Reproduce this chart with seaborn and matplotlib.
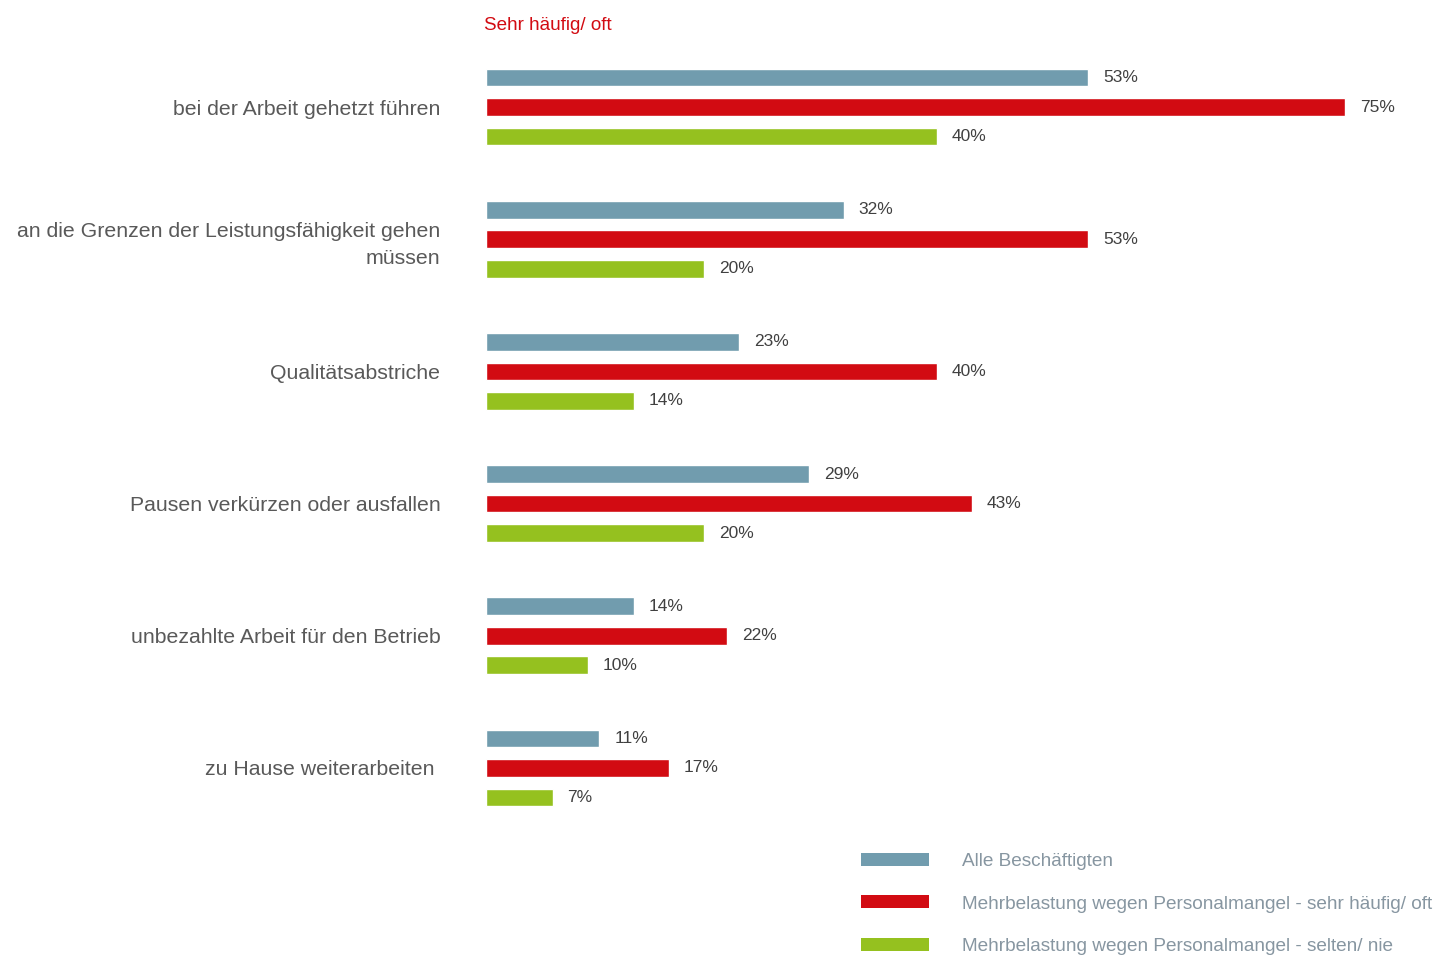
import matplotlib
matplotlib.use("Agg")
import matplotlib.pyplot as plt
import seaborn as sns
import pandas as pd
from matplotlib.patches import Patch

categories = [
    "bei der Arbeit gehetzt führen",
    "an die Grenzen der Leistungsfähigkeit gehen\nmüssen",
    "Qualitätsabstriche",
    "Pausen verkürzen oder ausfallen",
    "unbezahlte Arbeit für den Betrieb",
    "zu Hause weiterarbeiten ",
]
series_names = [
    "Alle Beschäftigten",
    "Mehrbelastung wegen Personalmangel - sehr häufig/ oft",
    "Mehrbelastung wegen Personalmangel - selten/ nie",
]
alle = [53, 32, 23, 29, 14, 11]
oft = [75, 53, 40, 43, 22, 17]
selten = [40, 20, 14, 20, 10, 7]
colors = ["#719cae", "#d20b12", "#95c11f"]

rows = []
for name, vals in zip(series_names, [alle, oft, selten]):
    for c, v in zip(categories, vals):
        rows.append({"cat": c, "val": v, "series": name})
df = pd.DataFrame(rows)

sns.set_style("white")
plt.rcParams["font.family"] = ["Liberation Sans", "DejaVu Sans"]

fig = plt.figure(figsize=(14.4, 9.56), dpi=100)
px_per_unit = 11.65
left_px = 471
right_px = left_px + 80 * px_per_unit
top_px, bot_px = 41, 834
ax = fig.add_axes([left_px / 1440, 1 - bot_px / 956,
                   (right_px - left_px) / 1440, (bot_px - top_px) / 956])

sns.barplot(data=df, x="val", y="cat", hue="series", order=categories,
            hue_order=series_names, palette=colors, orient="h",
            width=0.668, gap=0.40, ax=ax, legend=False, saturation=1,
            errorbar=None)

ax.set_xlim(0, 80)
ax.set_ylim(5.5, -0.5)

# bars visually start slightly right of the value origin (as in the source chart)
start = 15 / px_per_unit
for cont in ax.containers:
    for p in cont.patches:
        w = p.get_width()
        p.set_x(start)
        p.set_width(w - start)

for s in ax.spines.values():
    s.set_visible(False)
ax.set_xticks([])
ax.set_xlabel("")
ax.set_ylabel("")
ax.tick_params(axis="y", length=0, pad=22, labelsize=15.3, labelcolor="#595959")
for lab in ax.get_yticklabels():
    lab.set_linespacing(1.5)

for cont in ax.containers:
    ax.bar_label(cont, fmt="%.0f%%", padding=10.8, fontsize=12.5, color="#404040")

fig.text(484 / 1440, 1 - 25 / 956, "Sehr häufig/ oft", color="#d20b12",
         fontsize=13.6, ha="left", va="center")

handles = [Patch(facecolor=c, edgecolor="none") for c in colors]
fig.legend(handles, series_names, loc="center left",
           bbox_to_anchor=(861 / 1440, 1 - 904 / 956), frameon=False,
           borderpad=0, borderaxespad=0, handlelength=3.58, handleheight=0.68,
           handletextpad=1.74, labelspacing=1.32, fontsize=13.7,
           labelcolor="#8796a1")

fig.savefig("out.png", dpi=100)
